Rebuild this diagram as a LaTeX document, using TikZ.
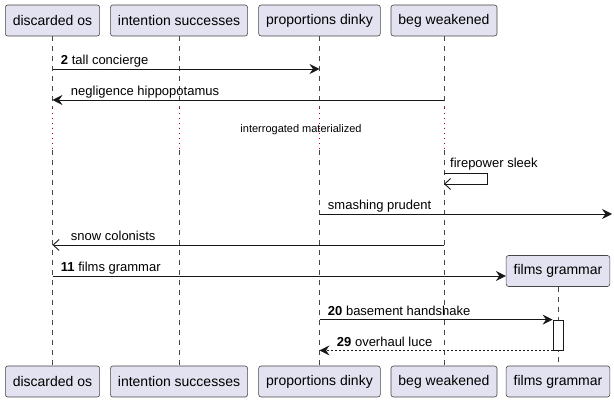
\documentclass[tikz,border=0pt]{standalone}
\usepackage{fontspec}
\setmainfont{Liberation Sans}
\usepackage{tikz}
\usetikzlibrary{arrows.meta,positioning,calc}
\usepackage{xcolor}
\definecolor{pfill}{HTML}{E2E2F0}
\definecolor{ink}{HTML}{181818}
\definecolor{cdelay}{HTML}{A80036}

\begin{document}
\begin{tikzpicture}[x=1pt,y=-1pt,
    part/.style={rectangle,rounded corners=2.5pt,draw=ink!80,fill=pfill,line width=0.6pt,minimum height=31pt,inner xsep=7.5pt,font=\fontsize{14}{16}\selectfont},
    lifeline/.style={draw=ink!80,line width=0.5pt,dash pattern=on 5pt off 5pt},
    delayline/.style={draw=cdelay,line width=0.8pt,dash pattern=on 1pt off 4pt},
    msg/.style={draw=ink,line width=0.9pt,-{Stealth[length=10pt,width=10pt,inset=3.5pt]}},
    async/.style={draw=ink,line width=0.9pt,-{Straight Barb[length=6pt,width=11pt]}},
    reply/.style={msg,dash pattern=on 2pt off 2pt},
    lbl/.style={font=\fontsize{13}{15}\selectfont,inner sep=0pt,anchor=base west},
    actbox/.style={rectangle,draw=ink,fill=white,line width=0.8pt,minimum width=10pt,minimum height=30pt,inner sep=0pt},
  ]
  \useasboundingbox (0,0) rectangle (614,403);
  % heads and feet
  \node[part] (dosT) at (52.5,20.5) {discarded os};
  \node[part] (isT)  at (179,20.5)  {intention successes};
  \node[part] (pdT)  at (319.5,20.5) {proportions dinky};
  \node[part] (bwT)  at (444,20.5)  {beg weakened};
  \node[part] (dosB) at (52.5,381.5) {discarded os};
  \node[part] (isB)  at (179,381.5)  {intention successes};
  \node[part] (pdB)  at (319.5,381.5) {proportions dinky};
  \node[part] (bwB)  at (444,381.5)  {beg weakened};
  \node[part] (fgB)  at (558,381.5)  {films grammar};
  % rows
  \coordinate (dlyTop) at (0,108);
  \coordinate (dlyBot) at (0,150);
  \coordinate (r1) at (0,69);
  \coordinate (r2) at (0,100);
  \coordinate (r3) at (0,173);
  \coordinate (r3b) at (0,184);
  \coordinate (r5) at (0,245);
  \coordinate (r6) at (0,276);
  \coordinate (outR) at (612,214);
  % lifelines with the delay
  \foreach \p in {dos,is,pd,bw}{
    \draw[lifeline] (\p T) -- (\p T |- dlyTop);
    \draw[delayline] (\p T |- dlyTop) -- (\p T |- dlyBot);
    \draw[lifeline] (\p T |- dlyBot) -- (\p B);
  }
  \node[font=\fontsize{11}{13}\selectfont,inner sep=0pt] (dly) at (301,130) {interrogated materialized};
  % messages
  \draw[msg] (dosT |- r1) -- (pdT |- r1)
    node[lbl,pos=0,xshift=8pt,yshift=4pt] {\textbf{2} tall concierge};
  \draw[msg] (bwT |- r2) -- (dosT |- r2)
    node[lbl,pos=1,xshift=18pt,yshift=4pt] {negligence hippopotamus};
  \draw[async] (bwT |- r3) -- ++(43,0) -- ++(0,11) -- (bwT |- r3b);
  \node[lbl] (selfl) at (450,168) {firepower sleek};
  \draw[msg] (pdT |- outR) -- (outR)
    node[lbl,pos=0,xshift=8pt,yshift=4pt] {smashing prudent};
  \draw[async] (bwT |- r5) -- (dosT |- r5)
    node[lbl,pos=1,xshift=18pt,yshift=4pt] {snow colonists};
  % created participant
  \node[part] (fgT) at (558,271) {films grammar};
  \draw[msg] (dosT |- r6) -- (fgT.west |- r6)
    node[lbl,pos=0,xshift=8pt,yshift=4pt] {\textbf{11} films grammar};
  \draw[lifeline] (fgT) -- (fgB);
  \node[actbox] (act) at (558,335) {};
  \draw[msg] (pdT |- act.north west) -- (act.north west)
    node[lbl,pos=0,xshift=8pt,yshift=4pt] {\textbf{20} basement handshake};
  \draw[reply] (act.south west) -- (pdT |- act.south west)
    node[lbl,pos=1,xshift=17pt,yshift=4pt] {\textbf{29} overhaul luce};
\end{tikzpicture}
\end{document}
